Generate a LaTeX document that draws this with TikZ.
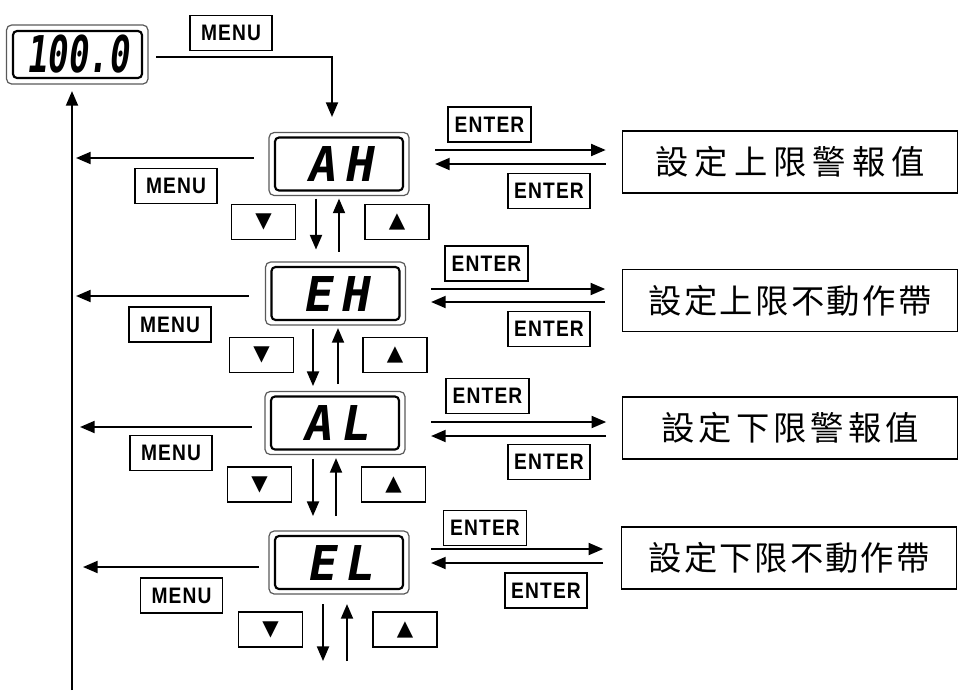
\documentclass[tikz,border=0pt]{standalone}
\usepackage{fontspec}
\usepackage{graphicx}
\usetikzlibrary{arrows.meta,calc}
\newfontfamily\keyfont{Liberation Sans}
\newfontfamily\segfont{DejaVu Sans Mono}[FakeSlant=0.18]
\newfontfamily\symfont{DejaVu Sans}
\newfontfamily\cjkfont{Noto Sans CJK TC}
\newcommand\keylabel[1]{\scalebox{0.9}[1.05]{\addfontfeatures{LetterSpace=6}#1}}
\begin{document}
\begin{tikzpicture}[x=0.75pt,y=-0.75pt,
  keybox/.style={draw, line width=1.2pt, inner sep=0pt, minimum width=61.5pt, minimum height=26pt,
    font=\keyfont\bfseries\fontsize{16}{16}\selectfont},
  tribox/.style={draw, line width=1.2pt, inner sep=0pt, minimum width=48pt, minimum height=26pt,
    font=\symfont\fontsize{16}{16}\selectfont},
  disp/.style={draw, line width=1.6pt, rounded corners=3pt, inner sep=0pt, minimum width=96pt, minimum height=39.75pt,
    font=\segfont\bfseries\fontsize{36}{36}\selectfont},
  outerb/.style={draw=black!65, line width=0.9pt, rounded corners=4pt},
  bigbox/.style={draw, line width=1.2pt, inner sep=0pt, minimum width=251.25pt, minimum height=46.5pt,
    font=\cjkfont\fontsize{25}{25}\selectfont},
  arr/.style={line width=1.5pt, -{Triangle[length=11pt,width=9pt]}}]
\useasboundingbox (0,0) rectangle (959,693);

% ---------- top display ----------
\node[disp, minimum width=96.75pt, minimum height=35.25pt, font=\segfont\bfseries\fontsize{38}{38}\selectfont] (d0) at (77.5,54.5) {\scalebox{0.67}[1]{100.0}};
\draw[outerb] ($(d0.north west)+(-5.5,-5)$) rectangle ($(d0.south east)+(5,5)$);
\node[keybox] (mt) at (231,33) {\keylabel{MENU}};
\coordinate (t1) at (332,117);
\draw[arr] ($(d0.east)+(13,2.5)$) -| (t1);

% left return line
\coordinate (bot) at (72,690);
\draw[arr, shorten >=9pt] (bot) -- (bot |- d0.south);

% ---------- displays ----------
\node[disp] (d1) at (339,164) {\addfontfeatures{LetterSpace=17}AH};
\node[disp] (d2) at (335.5,293.5) {\addfontfeatures{LetterSpace=17}EH};
\node[disp] (d3) at (335,423) {\addfontfeatures{LetterSpace=17}AL};
\node[disp] (d4) at (339,562.5) {\addfontfeatures{LetterSpace=17}EL};
\foreach \d in {d1,d2,d3,d4}{
  \draw[outerb] ($(\d.north west)+(-5,-4)$) rectangle ($(\d.south east)+(5,4)$);
}

% ---------- MENU keys ----------
\node[keybox] (m1) at (176,186) {\keylabel{MENU}};
\node[keybox] (m2) at (170,324.5) {\keylabel{MENU}};
\node[keybox] (m3) at (171,453) {\keylabel{MENU}};
\node[keybox] (m4) at (181.5,595.5) {\keylabel{MENU}};

% ---------- arrow keys ----------
\node[tribox] (dn1) at (263.5,222) {▼};
\node[tribox] (up1) at (397,222) {▲};
\node[tribox] (dn2) at (261.5,355) {▼};
\node[tribox] (up2) at (395,355) {▲};
\node[tribox] (dn3) at (259.5,484.5) {▼};
\node[tribox] (up3) at (393.5,484.5) {▲};
\node[tribox] (dn4) at (270.5,629.5) {▼};
\node[tribox] (up4) at (405,629.5) {▲};

% ---------- ENTER keys ----------
\node[keybox, minimum width=62.25pt] (et1) at (489.5,124.5) {\keylabel{ENTER}};
\node[keybox] (eb1) at (549,191) {\keylabel{ENTER}};
\node[keybox, minimum width=62.25pt] (et2) at (486.5,263.5) {\keylabel{ENTER}};
\node[keybox] (eb2) at (549,329) {\keylabel{ENTER}};
\node[keybox, minimum width=62.25pt] (et3) at (487.5,396) {\keylabel{ENTER}};
\node[keybox] (eb3) at (549,462) {\keylabel{ENTER}};
\node[keybox, minimum width=62.25pt] (et4) at (485,528) {\keylabel{ENTER}};
\node[keybox] (eb4) at (546,590.5) {\keylabel{ENTER}};

% ---------- setting boxes ----------
\node[bigbox] (b1) at (790,162) {\addfontfeatures{LetterSpace=18}設定上限警報值};
\node[bigbox] (b2) at (790,300.5) {\addfontfeatures{LetterSpace=7}設定上限不動作帶};
\node[bigbox] (b3) at (790,428) {\addfontfeatures{LetterSpace=12}設定下限警報值};
\node[bigbox] (b4) at (789,558) {\addfontfeatures{LetterSpace=6}設定下限不動作帶};

% ---------- right connectors ----------
\draw[arr] ($(d1.east)+(31,-14)$) -- ($(b1.west)+(-16,-12)$);
\draw[arr] ($(b1.west)+(-16,2)$) -- ($(d1.east)+(31,0)$);
\draw[arr] ($(d2.east)+(30.5,-4.5)$) -- ($(b2.west)+(-16.5,-11.5)$);
\draw[arr] ($(b2.west)+(-16.5,1.5)$) -- ($(d2.east)+(30.5,8.5)$);
\draw[arr] ($(d3.east)+(31,-1)$) -- ($(b3.west)+(-15.5,-6)$);
\draw[arr] ($(b3.west)+(-15.5,8)$) -- ($(d3.east)+(31,13)$);
\draw[arr] ($(d4.east)+(27,-13.5)$) -- ($(b4.west)+(-17.5,-9)$);
\draw[arr] ($(b4.west)+(-17.5,5)$) -- ($(d4.east)+(27,0.5)$);

% ---------- left MENU connectors ----------
\coordinate (L1) at (76,158);
\coordinate (L2) at (76,296);
\coordinate (L3) at (80,427);
\coordinate (L4) at (83,567);
\draw[arr] ($(d1.west)+(-20,-6)$) -- (L1);
\draw[arr] ($(d2.west)+(-21.5,2.5)$) -- (L2);
\draw[arr] ($(d3.west)+(-18,4)$) -- (L3);
\draw[arr] ($(d4.west)+(-15,4.5)$) -- (L4);

% ---------- up / down connectors ----------
\draw[arr] ($(d1.south)+(-23,7)$) -- ++(0,51);
\draw[arr] ($(d1.south)+(0,60)$) -- ($(d1.south)+(0,7)$);
\draw[arr] ($(d2.south)+(-22.5,8)$) -- ++(0,57);
\draw[arr] ($(d2.south)+(2.5,63)$) -- ($(d2.south)+(2.5,7)$);
\draw[arr] ($(d3.south)+(-22,8.5)$) -- ++(0,57);
\draw[arr] ($(d3.south)+(1,65.5)$) -- ($(d3.south)+(1,7.5)$);
\draw[arr] ($(d4.south)+(-16,14)$) -- ++(0,57);
\draw[arr] ($(d4.south)+(8,71)$) -- ($(d4.south)+(8,14)$);
\end{tikzpicture}
\end{document}
